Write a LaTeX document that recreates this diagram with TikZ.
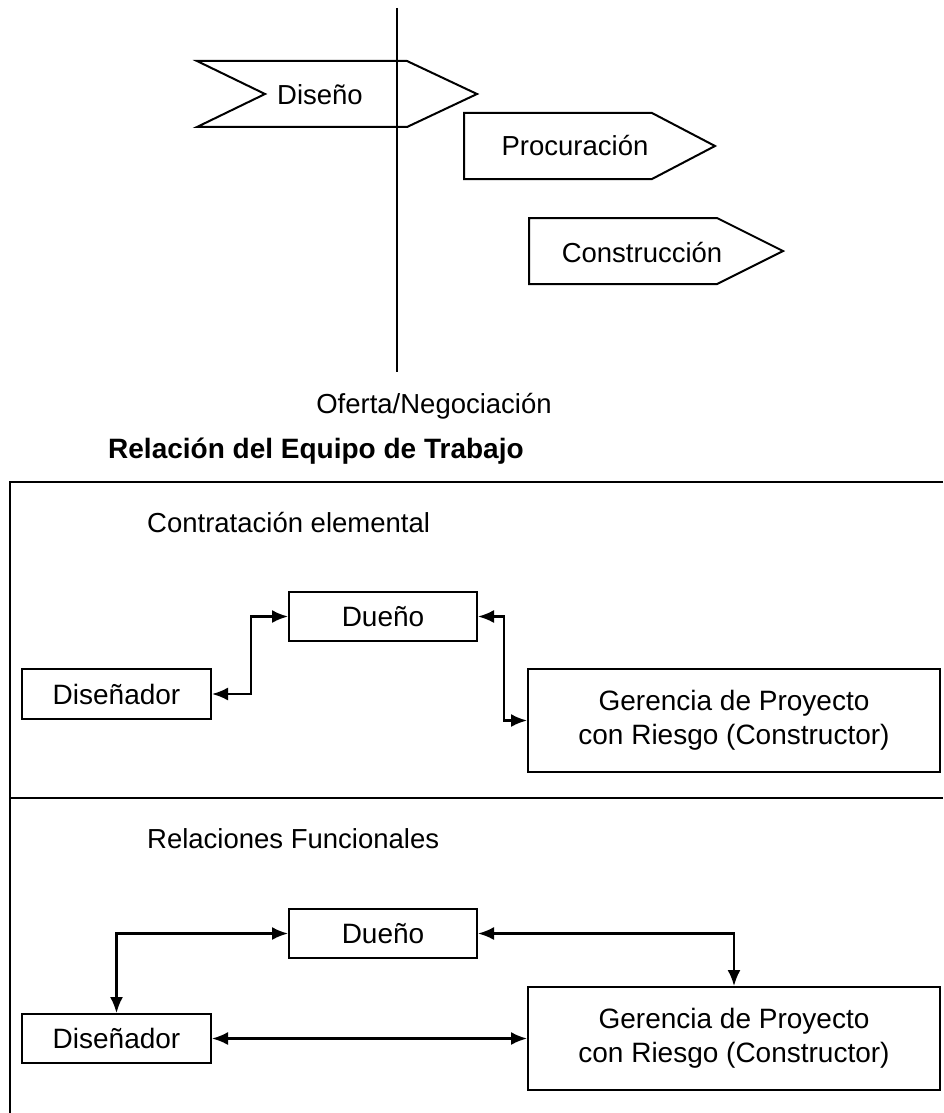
\documentclass[tikz,border=0pt]{standalone}
\usepackage{fontspec}
\setmainfont{Liberation Sans}
\usetikzlibrary{arrows.meta}
\begin{document}
\begin{tikzpicture}[x=1pt,y=-1pt,
  txt/.style={font=\fontsize{27.5}{34}\selectfont, inner sep=0pt},
  boldtxt/.style={font=\fontsize{28}{34}\selectfont\bfseries, inner sep=0pt},
  box/.style={draw, line width=2pt, inner sep=0pt, align=center,
    font=\fontsize{28}{34}\selectfont},
  chev/.style={draw, line width=2pt, line join=miter},
  rule/.style={line width=2pt},
  link/.style={line width=2.2pt,
    {Latex[length=16pt,width=13pt]}-{Latex[length=16pt,width=13pt]}}]
\useasboundingbox (0,0) rectangle (943,1113);

% phase arrows
\draw[chev] (197,61) -- (407,61) -- (477,94) -- (407,127) -- (197,127) -- (265,94) -- cycle;
\draw[chev] (464,113) -- (652,113) -- (715,146) -- (652,179) -- (464,179) -- cycle;
\draw[chev] (529,218) -- (717,218) -- (783,251) -- (717,284) -- (529,284) -- cycle;
\node[txt, anchor=base] (diseno) at (320,105) {Diseño};
\node[txt, anchor=base] (procura) at (575,155) {Procuración};
\node[txt, anchor=base] (constru) at (642,262) {Construcción};

% bid / negotiation milestone
\coordinate (mtop) at (397,8);
\coordinate (mbot) at (397,372);
\draw[rule] (mtop) -- (mbot);
\node[txt, anchor=base] (oferta) at (434,413) {Oferta/Negociación};

% team relationship panel
\node[boldtxt, anchor=base west] (titulo) at (108,458) {Relación del Equipo de Trabajo};
\coordinate (ftr) at (943,482);
\coordinate (ftl) at (10,482);
\coordinate (fbl) at (10,1113);
\coordinate (fml) at (10,798);
\coordinate (fmr) at (943,798);
\draw[rule] (ftr) -- (ftl) -- (fbl);
\draw[rule] (fml) -- (fmr);

% contractual relationships
\node[txt, anchor=base west] (contr) at (147,532) {Contratación elemental};
\node[box, minimum width=188pt, minimum height=49pt] (due1) at (383,616.5) {Dueño};
\node[box, minimum width=189pt, minimum height=50pt] (dis1) at (116.5,694) {Diseñador};
\node[box, minimum width=412pt, minimum height=103pt] (ger1) at (734,720.5)
  {Gerencia de Proyecto\\con Riesgo (Constructor)};
\draw[link] (dis1.east) -- ++(39,0) |- (due1.west);
\draw[link] (due1.east) -- ++(26,0) |- (ger1.west);

% functional relationships
\node[txt, anchor=base west] (func) at (147,848) {Relaciones Funcionales};
\node[box, minimum width=188pt, minimum height=49pt] (due2) at (383,933.5) {Dueño};
\node[box, minimum width=189pt, minimum height=49pt] (dis2) at (116.5,1038.5) {Diseñador};
\node[box, minimum width=412pt, minimum height=103pt] (ger2) at (734,1038.5)
  {Gerencia de Proyecto\\con Riesgo (Constructor)};
\draw[link] (due2.west) -| (dis2.north);
\draw[link] (due2.east) -| (ger2.north);
\draw[link] (dis2.east) -- (ger2.west);
\end{tikzpicture}
\end{document}
